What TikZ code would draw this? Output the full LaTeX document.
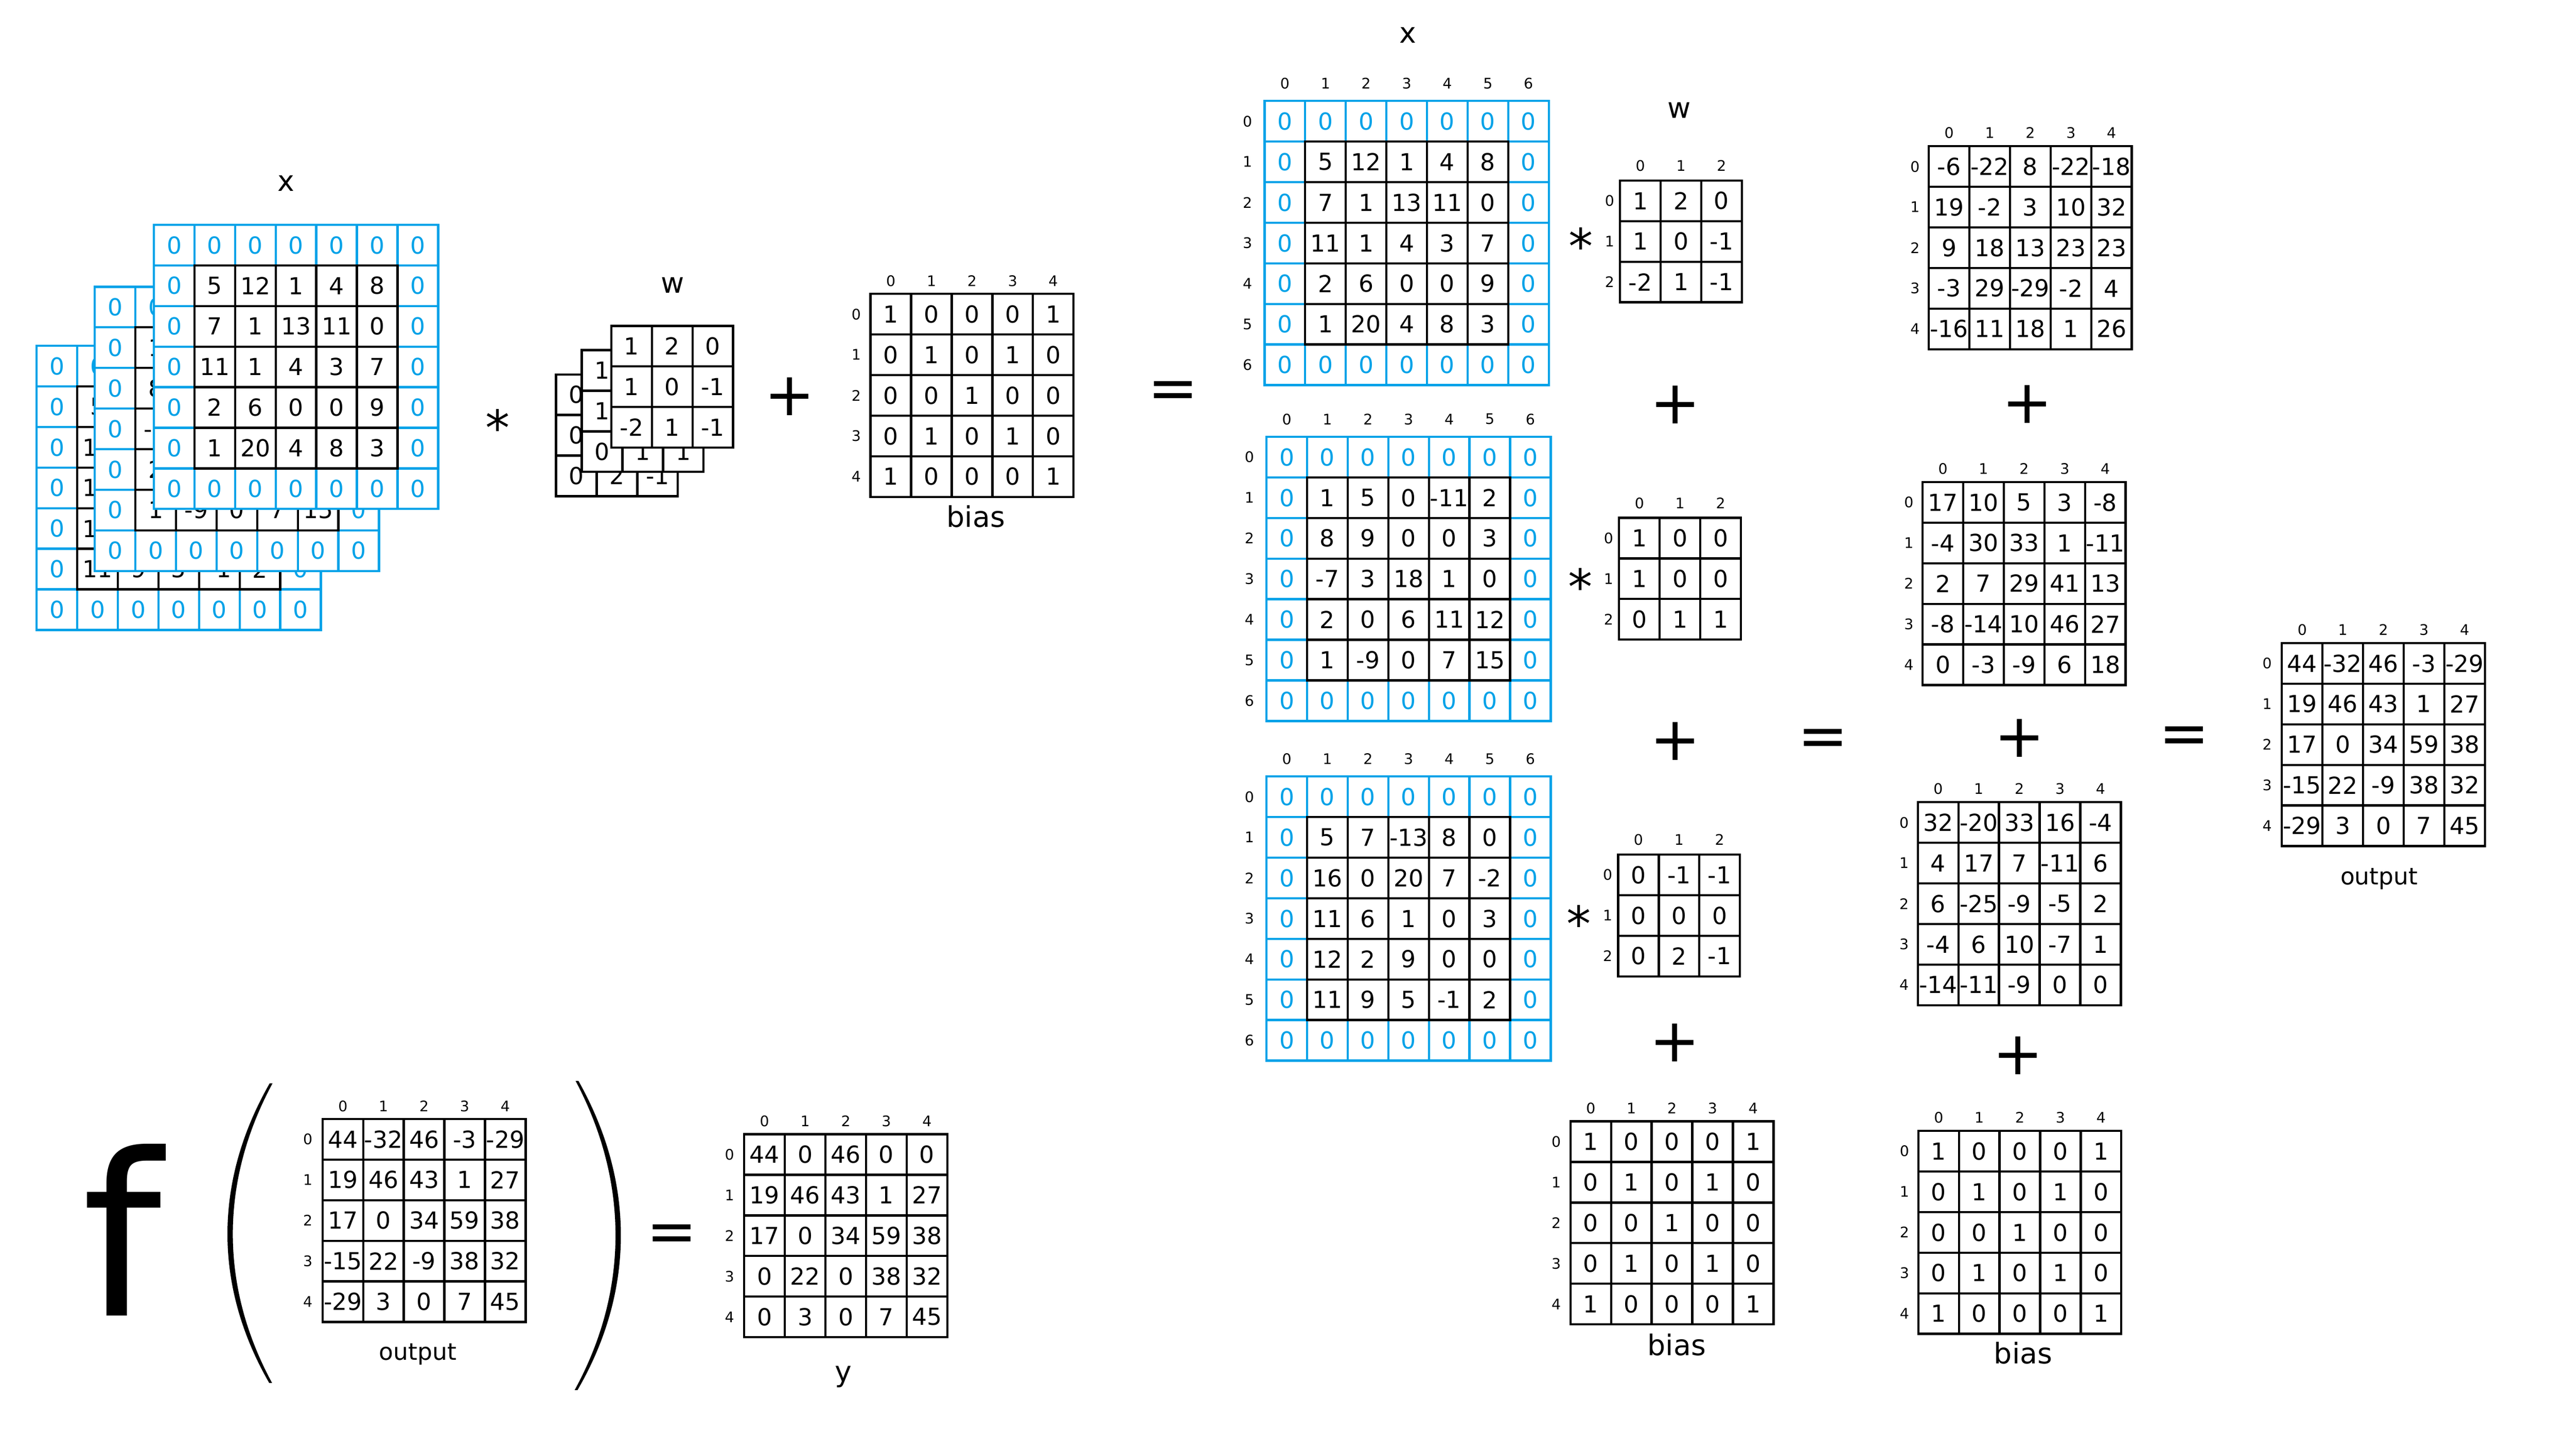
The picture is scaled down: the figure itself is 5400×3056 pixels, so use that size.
\documentclass[tikz,border=0pt]{standalone}
\usepackage{fontspec}
\setmainfont{DejaVu Sans}
\definecolor{xblue}{RGB}{0,162,232}
\newcommand\cellsz{85.2}
\newcommand\cellfont{\fontsize{14}{16}\selectfont}
\newcommand\idxfont{\fontsize{8.7}{10}\selectfont}
\newcommand\lblfont{\fontsize{17}{20}\selectfont}
\newcommand\outfont{\fontsize{14}{16}\selectfont}
\newcommand\opfont{\fontsize{36}{40}\selectfont}
\newcommand\astfont{\fontsize{29}{32}\selectfont}
\newcommand\bigffont{\fontsize{135}{140}\selectfont}
\tikzset{
  cellk/.style={draw=black, fill=white, line width=0.047cm, minimum size=0.852cm, inner sep=0pt, font=\cellfont, text=black},
  cellb/.style={cellk, draw=xblue, text=xblue},
  idx/.style={inner sep=0pt, font=\idxfont},
  lbl/.style={inner sep=0pt, font=\lblfont},
  outlbl/.style={inner sep=0pt, font=\outfont},
  opsym/.style={inner sep=0pt, font=\opfont, anchor=base},
  astsym/.style={inner sep=0pt, font=\astfont, anchor=base},
  paren/.style={fill=black, draw=none}
}
% padded 7x7 matrix: name, left, top, 25 inner values
\newcommand\padmat[4]{%
  \foreach \ri in {0,...,6}{\foreach \ci in {0,...,6}{%
    \pgfmathtruncatemacro\isring{or(or(\ri==0,\ri==6),or(\ci==0,\ci==6))}%
    \ifnum\isring=1
      \node[cellb] (#1-\ri-\ci) at ({#2+(\ci+0.5)*\cellsz},{#3+(\ri+0.5)*\cellsz}) {0};
    \fi}}
  \foreach \v [count=\kk from 0] in {#4}{%
    \pgfmathtruncatemacro\ri{div(\kk,5)+1}%
    \pgfmathtruncatemacro\ci{mod(\kk,5)+1}%
    \node[cellk] (#1-\ri-\ci) at ({#2+(\ci+0.5)*\cellsz},{#3+(\ri+0.5)*\cellsz}) {\v};}%
}
% plain n x n matrix: name, left, top, n, values
\newcommand\plainmat[5]{%
  \foreach \v [count=\kk from 0] in {#5}{%
    \pgfmathtruncatemacro\ri{div(\kk,#4)}%
    \pgfmathtruncatemacro\ci{mod(\kk,#4)}%
    \node[cellk] (#1-\ri-\ci) at ({#2+(\ci+0.5)*\cellsz},{#3+(\ri+0.5)*\cellsz}) {\v};}%
}
% index labels: name, left, top, n, column-offset, row-offset
\newcommand\idxlab[6]{%
  \pgfmathtruncatemacro\nmax{#4-1}%
  \foreach \ii in {0,...,\nmax}{%
    \node[idx] (#1-c\ii) at ({#2+(\ii+0.5)*\cellsz},{#3-#5}) {\ii};
    \node[idx] (#1-r\ii) at ({#2-#6},{#3+(\ii+0.5)*\cellsz}) {\ii};}%
}
\begin{document}
\begin{tikzpicture}[x=0.01cm,y=-0.01cm]
\fill[white] (0,0) rectangle (5400,3056);
\useasboundingbox (0,0) rectangle (5400,3056);

% ---------- left: stacked input ----------
\node[lbl] (xlblL) at (600,385) {x};
\padmat{sx3}{77}{726}{5,7,-13,8,0,16,0,20,7,-2,11,6,1,0,3,12,2,9,0,0,11,9,5,-1,2}
\padmat{sx2}{199}{602}{1,5,0,-11,2,8,9,0,0,3,-7,3,18,1,0,2,0,6,11,12,1,-9,0,7,15}
\padmat{sx1}{323}{472}{5,12,1,4,8,7,1,13,11,0,11,1,4,3,7,2,6,0,0,9,1,20,4,8,3}
\node[astsym] (astL) at (1044,935) {*};
\node[lbl] (wlblL) at (1412,599) {w};
\plainmat{sw3}{1167}{786}{3}{0,-1,-1,0,0,0,0,2,-1}
\plainmat{sw2}{1221}{735}{3}{1,0,0,1,0,0,0,1,1}
\plainmat{sw1}{1283}{684}{3}{1,2,0,1,0,-1,-2,1,-1}
\node[opsym] (plusL) at (1657,872) {+};
\plainmat{biasL}{1827}{617}{5}{1,0,0,0,1,0,1,0,1,0,0,0,1,0,0,0,1,0,1,0,1,0,0,0,1}
\idxlab{biasL}{1827}{617}{5}{27}{30}
\node[lbl] (biasLlbl) at (2048,1084) {bias};
\node[opsym] (eqL) at (2462,858) {=};

% ---------- centre: per-channel convolutions ----------
\node[lbl] (xlblC) at (2955,74) {x};
\padmat{X1}{2654}{212}{5,12,1,4,8,7,1,13,11,0,11,1,4,3,7,2,6,0,0,9,1,20,4,8,3}
\idxlab{X1}{2654}{212}{7}{37}{36}
\node[astsym] (ast1) at (3318,553) {*};
\node[lbl] (wlblC) at (3524,232) {w};
\plainmat{W1}{3400}{379}{3}{1,2,0,1,0,-1,-2,1,-1}
\idxlab{W1}{3400}{379}{3}{31}{22}
\node[opsym] (plus1) at (3516,889) {+};

\padmat{X2}{2658}{917}{1,5,0,-11,2,8,9,0,0,3,-7,3,18,1,0,2,0,6,11,12,1,-9,0,7,15}
\idxlab{X2}{2658}{917}{7}{37}{36}
\node[astsym] (ast2) at (3317,1268) {*};
\plainmat{W2}{3398}{1087}{3}{1,0,0,1,0,0,0,1,1}
\idxlab{W2}{3398}{1087}{3}{31}{22}
\node[opsym] (plus2) at (3516,1596) {+};

\padmat{X3}{2658}{1630}{5,7,-13,8,0,16,0,20,7,-2,11,6,1,0,3,12,2,9,0,0,11,9,5,-1,2}
\idxlab{X3}{2658}{1630}{7}{37}{36}
\node[astsym] (ast3) at (3314,1976) {*};
\plainmat{W3}{3396}{1794}{3}{0,-1,-1,0,0,0,0,2,-1}
\idxlab{W3}{3396}{1794}{3}{31}{22}
\node[opsym] (plus3) at (3515,2228) {+};

\plainmat{biasC}{3296}{2354}{5}{1,0,0,0,1,0,1,0,1,0,0,0,1,0,0,0,1,0,1,0,1,0,0,0,1}
\idxlab{biasC}{3296}{2354}{5}{28}{30}
\node[lbl] (biasClbl) at (3519,2823) {bias};

\node[opsym] (eqC) at (3826,1588) {=};

% ---------- right: per-channel results ----------
\plainmat{R1}{4048}{307}{5}{-6,-22,8,-22,-18,19,-2,3,10,32,9,18,13,23,23,-3,29,-29,-2,4,-16,11,18,1,26}
\idxlab{R1}{4048}{307}{5}{28}{29}
\node[opsym] (plus4) at (4255,888) {+};
\plainmat{R2}{4035}{1012}{5}{17,10,5,3,-8,-4,30,33,1,-11,2,7,29,41,13,-8,-14,10,46,27,0,-3,-9,6,18}
\idxlab{R2}{4035}{1012}{5}{28}{29}
\node[opsym] (plus5) at (4238,1589) {+};
\plainmat{R3}{4025}{1684}{5}{32,-20,33,16,-4,4,17,7,-11,6,6,-25,-9,-5,2,-4,6,10,-7,1,-14,-11,-9,0,0}
\idxlab{R3}{4025}{1684}{5}{28}{29}
\node[opsym] (plus6) at (4235,2256) {+};
\plainmat{biasR}{4026}{2374}{5}{1,0,0,0,1,0,1,0,1,0,0,0,1,0,0,0,1,0,1,0,1,0,0,0,1}
\idxlab{biasR}{4026}{2374}{5}{28}{29}
\node[lbl] (biasRlbl) at (4246,2840) {bias};

\node[opsym] (eqR) at (4584,1583) {=};
\plainmat{Out}{4789}{1350}{5}{44,-32,46,-3,-29,19,46,43,1,27,17,0,34,59,38,-15,22,-9,38,32,-29,3,0,7,45}
\idxlab{Out}{4789}{1350}{5}{28}{31}
\node[outlbl] (outRlbl) at (4993,1845) {output};

% ---------- bottom left: activation ----------
\node[inner sep=0pt, font=\bigffont, anchor=base west] (fgl) at (172,2762) {f};
\fill[paren] (566,2274) .. controls (448,2480) and (448,2700) .. (565,2903)
  -- (571,2903) .. controls (461,2700) and (461,2480) .. (572,2274) -- cycle;
\fill[paren] (1214,2269) .. controls (1333,2480) and (1333,2710) .. (1212,2918)
  -- (1206,2918) .. controls (1320,2710) and (1320,2480) .. (1208,2269) -- cycle;
\plainmat{OutB}{677}{2349}{5}{44,-32,46,-3,-29,19,46,43,1,27,17,0,34,59,38,-15,22,-9,38,32,-29,3,0,7,45}
\idxlab{OutB}{677}{2349}{5}{27}{31}
\node[outlbl] (outBlbl) at (877,2843) {output};
\node[opsym] (eqB) at (1410,2628) {=};
\plainmat{Y}{1562}{2381}{5}{44,0,46,0,0,19,46,43,1,27,17,0,34,59,38,0,22,0,38,32,0,3,0,7,45}
\idxlab{Y}{1562}{2381}{5}{28}{31}
\node[lbl] (ylbl) at (1770,2890) {y};
\end{tikzpicture}
\end{document}
